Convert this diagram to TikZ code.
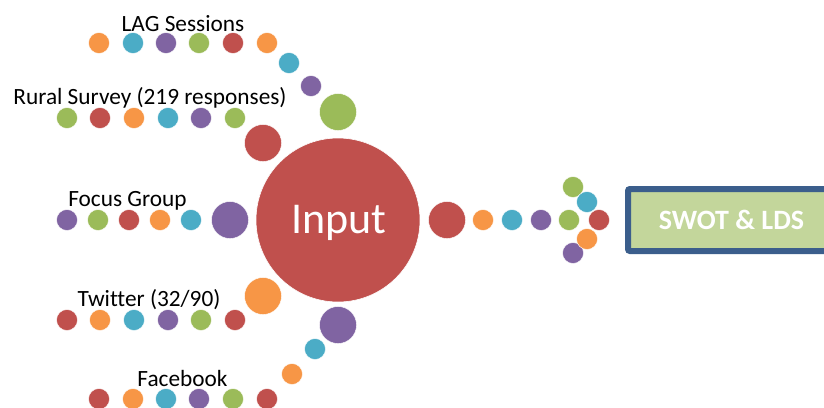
\documentclass[tikz,border=0pt]{standalone}
\usepackage{fontspec}
\setmainfont{Carlito}[Ligatures=NoCommon]
\definecolor{cred}{HTML}{C0504D}
\definecolor{cgreen}{HTML}{9BBB59}
\definecolor{cpurple}{HTML}{8064A2}
\definecolor{ccyan}{HTML}{4BACC6}
\definecolor{corange}{HTML}{F79646}
\definecolor{boxfill}{HTML}{C3D69B}
\definecolor{boxline}{HTML}{3B5E8C}
\begin{document}
\begin{tikzpicture}[x=1pt,y=-1pt,
  dot/.style={circle,fill=#1,draw=white,line width=0.4pt,minimum size=21pt,inner sep=0pt},
  bigdot/.style={circle,fill=#1,draw=white,line width=0.4pt,minimum size=37pt,inner sep=0pt},
  lbl/.style={anchor=base,inner sep=0pt,font=\fontsize{23.3}{28}\selectfont,text=black},
  hub/.style={circle,fill=cred,draw=white,line width=0.6pt,minimum size=164pt,inner sep=0pt},
  swot/.style={draw=boxline,fill=boxfill,line width=6pt,rounded corners=2pt,minimum width=207pt,minimum height=62pt,inner sep=0pt,
    text=white,font=\bfseries\fontsize{28}{32}\selectfont}]
\clip (0,0) rectangle (824,407);
\useasboundingbox (0,0) rectangle (824,407);
% hub
\node[hub] (input) at (338,220) {};
\node[anchor=base,inner sep=0pt,text=white,font=\fontsize{44}{50}\selectfont] (inputtxt) at (339,233) {Input};
% LAG Sessions
\node[lbl] (tlag) at (183,31) {LAG Sessions};
\node[dot=corange] (l1) at (99,43) {};
\node[dot=ccyan] (l2) at (133,43) {};
\node[dot=cpurple] (l3) at (166,43) {};
\node[dot=cgreen] (l4) at (199,43) {};
\node[dot=cred] (l5) at (233,43) {};
\node[dot=corange] (l6) at (267,43) {};
\node[dot=ccyan] (l7) at (289,63) {};
\node[dot=cpurple] (l8) at (311,86) {};
\node[bigdot=cgreen] (l9) at (338,112) {};
% Rural Survey
\node[lbl] (trural) at (150,104) {Rural Survey (219 responses)};
\node[dot=cgreen] (r1) at (67,118) {};
\node[dot=cred] (r2) at (100,118) {};
\node[dot=corange] (r3) at (134,118) {};
\node[dot=ccyan] (r4) at (168,118) {};
\node[dot=cpurple] (r5) at (201,118) {};
\node[dot=cgreen] (r6) at (235,118) {};
\node[bigdot=cred] (r7) at (263,143) {};
% Focus Group
\node[lbl] (tfocus) at (127.5,206) {Focus Group};
\node[dot=cpurple] (f1) at (67,220) {};
\node[dot=cgreen] (f2) at (98,220) {};
\node[dot=cred] (f3) at (129,220) {};
\node[dot=corange] (f4) at (160,220) {};
\node[dot=ccyan] (f5) at (191,220) {};
\node[bigdot=cpurple] (f6) at (230,220) {};
% Twitter
\node[lbl] (ttwit) at (149,306) {Twitter (32/90)};
\node[dot=cred] (w1) at (67,320) {};
\node[dot=corange] (w2) at (100,320) {};
\node[dot=ccyan] (w3) at (134,320) {};
\node[dot=cpurple] (w4) at (168,320) {};
\node[dot=cgreen] (w5) at (201,320) {};
\node[dot=cred] (w6) at (235,320) {};
\node[bigdot=corange] (w7) at (263,296) {};
% Facebook
\node[lbl] (tface) at (182.5,386) {Facebook};
\node[dot=cred] (b1) at (99,399) {};
\node[dot=corange] (b2) at (133,399) {};
\node[dot=ccyan] (b3) at (166,399) {};
\node[dot=cpurple] (b4) at (199,399) {};
\node[dot=cgreen] (b5) at (233,399) {};
\node[dot=cred] (b6) at (267,399) {};
\node[dot=corange] (b7) at (292,374) {};
\node[dot=ccyan] (b8) at (315,349) {};
\node[bigdot=cpurple] (b9) at (338,325) {};
% output arrow
\node[bigdot=cred] (o1) at (447,220) {};
\node[dot=corange] (o2) at (483,220) {};
\node[dot=ccyan] (o3) at (512,220) {};
\node[dot=cpurple] (o4) at (541,220) {};
\node[dot=cgreen] (o5) at (569,220) {};
\node[dot=cgreen] (a1) at (573,187) {};
\node[dot=cpurple] (a4) at (573,253) {};
\node[dot=ccyan] (a2) at (587,202) {};
\node[dot=cred] (a0) at (599,220) {};
\node[dot=corange] (a3) at (587,239) {};
% SWOT box
\node[swot] (swotbox) at (731.5,220) {SWOT \& LDS};
\end{tikzpicture}
\end{document}
